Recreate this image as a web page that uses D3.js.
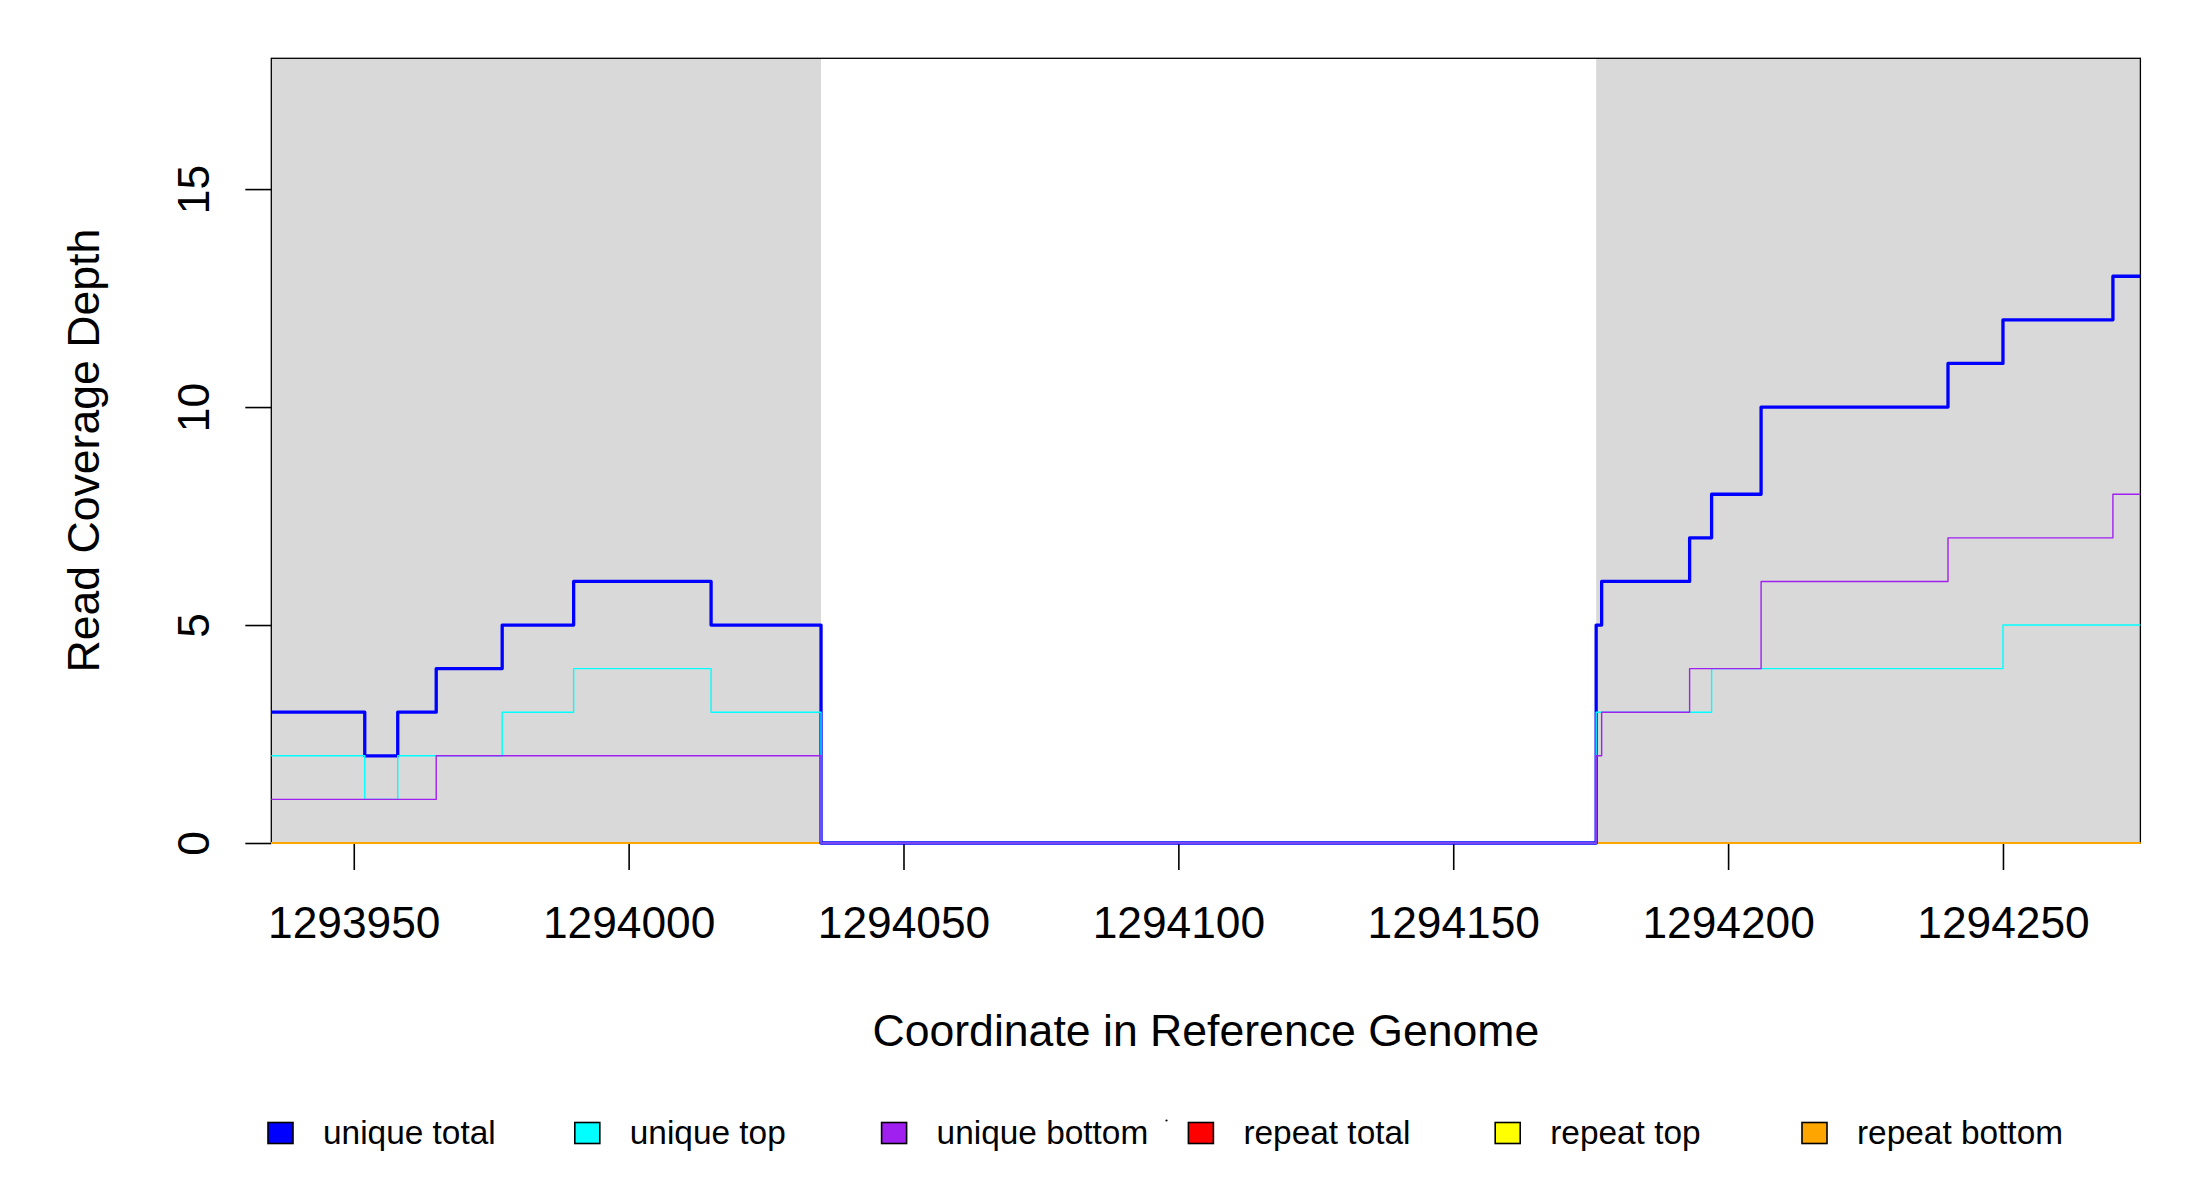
<!DOCTYPE html>
<html>
<head>
<meta charset="utf-8">
<script src="https://cdn.jsdelivr.net/npm/d3@7"></script>
<style>
  body { margin: 0; background: #fff; }
  svg { display: block; font-family: "Liberation Sans", Arial, sans-serif; }
</style>
</head>
<body>
<svg id="chart" width="2200" height="1200"></svg>
<script>
// Step breakpoints along the reference (value holds until the next position)
const positions = [1293935, 1293952, 1293958, 1293965, 1293977, 1293990, 1294015, 1294035,
  1294176, 1294177, 1294193, 1294197, 1294206, 1294240, 1294250, 1294270, 1294275];

// Coverage values per step
const uniqueTotal  = [3, 2, 3, 4, 5, 6, 5, 0, 5, 6, 7, 8, 10, 11, 12, 13, 13];
const uniqueTop    = [2, 1, 2, 2, 3, 4, 3, 0, 3, 3, 3, 4, 4, 4, 5, 5, 5];
const uniqueBottom = [1, 1, 1, 2, 2, 2, 2, 0, 2, 3, 4, 4, 6, 7, 7, 8, 8];
const repeatTotal  = [0, 0, 0, 0, 0, 0, 0, 0, 0, 0, 0, 0, 0, 0, 0, 0, 0];
const repeatTop    = [0, 0, 0, 0, 0, 0, 0, 0, 0, 0, 0, 0, 0, 0, 0, 0, 0];
const repeatBottom = [0, 0, 0, 0, 0, 0, 0, 0, 0, 0, 0, 0, 0, 0, 0, 0, 0];

// Shaded (contig) regions
const shadedRegions = [[1293935, 1294035], [1294176, 1294275]];

// Axis ticks
const xTicks = [1293950, 1294000, 1294050, 1294100, 1294150, 1294200, 1294250];
const yTicks = [0, 5, 10, 15];

const legendLabels = ["unique total", "unique top", "unique bottom", "repeat total", "repeat top", "repeat bottom"];
const legendColors = ["#0000ff", "#00ffff", "#a020f0", "#ff0000", "#ffff00", "#ffa500"];

const svg = d3.select("#chart");

// plot box
const plotLeft = 271.3, plotRight = 2140.4, plotTop = 58.3, plotBottom = 843;

const x = d3.scaleLinear().domain([1293935, 1294275]).range([plotLeft, plotRight]);
const y = d3.scaleLinear().domain([0, 18]).range([plotBottom, plotTop]);

// grey regions
svg.selectAll("rect.region")
  .data(shadedRegions)
  .enter()
  .append("rect")
  .attr("class", "region")
  .attr("x", d => x(d[0]))
  .attr("y", plotTop)
  .attr("width", d => x(d[1]) - x(d[0]))
  .attr("height", plotBottom - plotTop)
  .attr("fill", "#d9d9d9");

// box
svg.append("rect")
  .attr("x", plotLeft)
  .attr("y", plotTop)
  .attr("width", plotRight - plotLeft)
  .attr("height", plotBottom - plotTop)
  .attr("fill", "none")
  .attr("stroke", "#000")
  .attr("stroke-width", 1.3);

// x axis
const xAxis = svg.append("g")
  .attr("transform", `translate(0,${plotBottom})`)
  .call(d3.axisBottom(x).tickValues(xTicks).tickFormat(d3.format("d")).tickSize(27).tickPadding(37));
xAxis.select(".domain").remove();
xAxis.selectAll(".tick line").attr("stroke-width", 1.6);
xAxis.selectAll("text").attr("font-size", 44.3).attr("font-family", "Liberation Sans, Arial, sans-serif").attr("fill", "#000");

// y axis, labels rotated like base R
const yAxis = svg.append("g")
  .attr("transform", `translate(${plotLeft},0)`)
  .call(d3.axisLeft(y).tickValues(yTicks).tickSize(26));
yAxis.select(".domain").remove();
yAxis.selectAll(".tick line").attr("stroke-width", 1.6);
yAxis.selectAll("text")
  .attr("x", 0)
  .attr("y", -62)
  .attr("dy", null)
  .attr("transform", "rotate(-90)")
  .attr("text-anchor", "middle")
  .attr("font-size", 44.3)
  .attr("font-family", "Liberation Sans, Arial, sans-serif")
  .attr("fill", "#000");

// axis titles
svg.append("text")
  .attr("x", (plotLeft + plotRight) / 2)
  .attr("y", 1046)
  .attr("text-anchor", "middle")
  .attr("font-size", 44.6)
  .text("Coordinate in Reference Genome");

svg.append("text")
  .attr("transform", `translate(99,${(plotTop + plotBottom) / 2}) rotate(-90)`)
  .attr("text-anchor", "middle")
  .attr("font-size", 44.6)
  .text("Read Coverage Depth");

// step lines
const stepLine = vals => d3.line()
  .curve(d3.curveStepAfter)
  .x((d, i) => x(positions[i]))
  .y(d => y(d))(vals);

const series = [
  { values: repeatTotal, color: "#ff0000", width: 1.8 },
  { values: repeatTop, color: "#ffff00", width: 1.8 },
  { values: repeatBottom, color: "#ffa500", width: 1.8 },
  { values: uniqueTotal, color: "#0000ff", width: 3.3 },
  { values: uniqueTop, color: "#00ffff", width: 1.4 },
  { values: uniqueBottom, color: "#a020f0", width: 1.4 }
];

svg.selectAll("path.series")
  .data(series)
  .enter()
  .append("path")
  .attr("class", "series")
  .attr("d", d => stepLine(d.values))
  .attr("fill", "none")
  .attr("stroke", d => d.color)
  .attr("stroke-width", d => d.width)
  .attr("stroke-linejoin", "round");

// legend along the bottom
const legend = svg.selectAll("g.legend")
  .data(legendLabels)
  .enter()
  .append("g")
  .attr("class", "legend")
  .attr("transform", (d, i) => `translate(${268 + i * 306.8},0)`);

legend.append("rect")
  .attr("x", 0)
  .attr("y", 1122.5)
  .attr("width", 25)
  .attr("height", 21)
  .attr("fill", (d, i) => legendColors[i])
  .attr("stroke", "#000")
  .attr("stroke-width", 1.6);

legend.append("text")
  .attr("x", 55)
  .attr("y", 1144)
  .attr("font-size", 33.4)
  .text(d => d);

// stray speck left in the legend row
svg.append("circle")
  .attr("cx", 1166.5)
  .attr("cy", 1120.5)
  .attr("r", 1.1)
  .attr("fill", "#000");
</script>
</body>
</html>
